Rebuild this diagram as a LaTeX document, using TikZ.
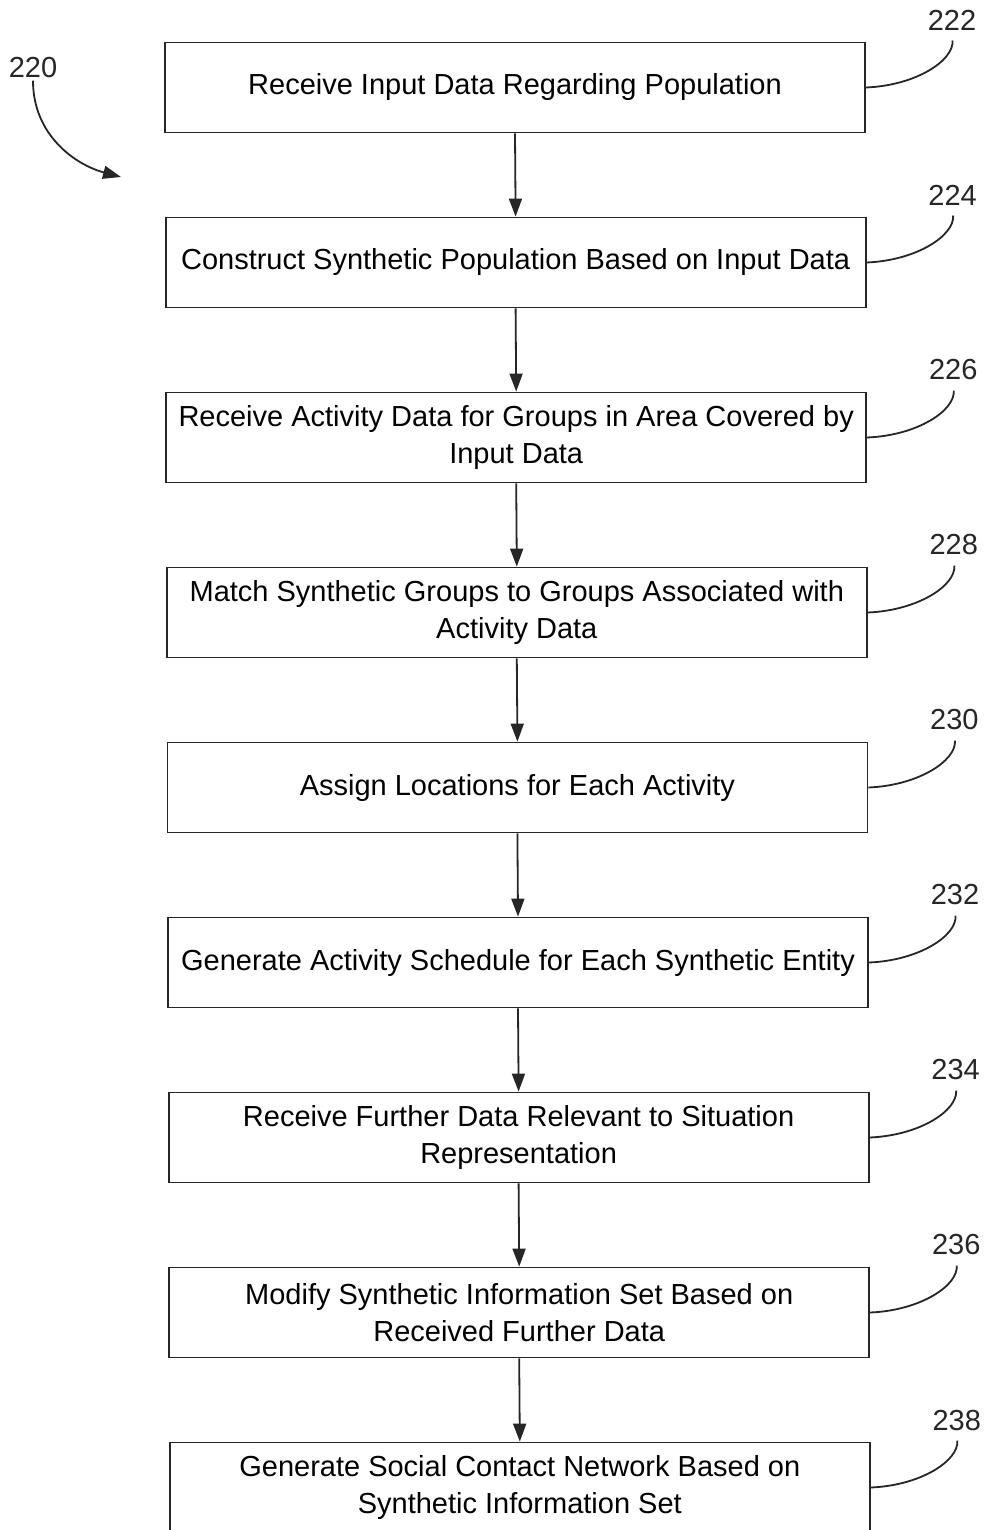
\documentclass[tikz,border=0pt]{standalone}
\usepackage{fontspec}
\setmainfont{Liberation Sans}
\usetikzlibrary{arrows.meta}
\newcommand\boxgap{175}
\newcommand\txtsize{\fontsize{14.5}{18.5}\selectfont}

\begin{document}
\begin{tikzpicture}[x=.5pt,y=-.5pt,
    stepbox/.style={draw=black!85,line width=.9pt,minimum width=350pt,minimum height=45pt,inner sep=0pt,align=center,font=\txtsize},
    reflabel/.style={font=\txtsize,inner sep=1pt,text=black!85},
    flow/.style={draw=black!85,line width=.9pt,-{Triangle[length=9pt,width=6.5pt]}},
    leader/.style={draw=black!85,line width=.9pt,shorten >=4pt}]
    \useasboundingbox (0,0) rectangle (985,1530);
    \clip (0,0) rectangle (985,1530);
    % steps of the method
    \foreach \i/\txt in {0/{Receive Input Data Regarding Population},
        1/{Construct Synthetic Population Based on Input Data},
        2/{Receive Activity Data for Groups in Area Covered by\\Input Data},
        3/{Match Synthetic Groups to Groups Associated with\\Activity Data},
        4/{Assign Locations for Each Activity},
        5/{Generate Activity Schedule for Each Synthetic Entity},
        6/{Receive Further Data Relevant to Situation\\Representation},
        7/{Modify Synthetic Information Set Based on\\Received Further Data},
        8/{Generate Social Contact Network Based on\\Synthetic Information Set}}{
      \pgfmathtruncatemacro\num{222+2*\i}
      \node[stepbox] (b\i) at ({515+.6*\i},{87.5+\boxgap*\i}) {\txt};
      \node[reflabel] (l\i) at ({952+.6*\i},{20+\boxgap*\i}) {\num};
      \draw[leader] (b\i.east) .. controls +(50,-2) and +(2,28) .. (l\i.south);
    }
    % arrows between steps
    \foreach \i in {0,...,7}{
      \pgfmathtruncatemacro\j{\i+1}
      \draw[flow] (b\i.south) -- (b\j.north);
    }
    % figure reference
    \node[reflabel] (l220) at (33,68) {220};
    \coordinate (a220) at (121,177);
    \draw[flow] (l220.south) .. controls +(0,55) and +(-45,-12) .. (a220);
\end{tikzpicture}
\end{document}
